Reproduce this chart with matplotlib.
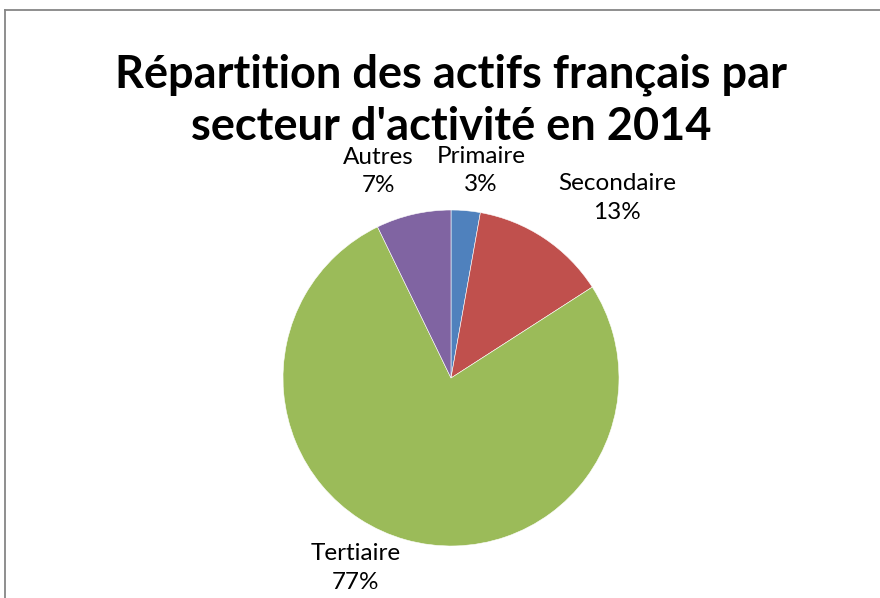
import matplotlib
matplotlib.use("Agg")
import matplotlib.pyplot as plt
from matplotlib.lines import Line2D

categories = ["Primaire", "Secondaire", "Tertiaire", "Autres"]
values = [2.8, 13.1, 76.9, 7.2]
colors = ["#4F81BD", "#C0504D", "#9BBB59", "#8064A2"]
title = "Répartition des actifs français par\nsecteur d'activité en 2014"

# label positions (data units, pie radius = 1)
label_pos = [(0.18, 1.235), (0.99, 1.07), (-0.57, -1.13), (-0.43, 1.23)]

W, H = 880, 598
cx, cy, R = 451, 378, 168  # pixel geometry of the pie (from top-left)

fig = plt.figure(figsize=(W / 100, H / 100), dpi=100)
ax = fig.add_axes([0, 0, 1, 1])
ax.set_aspect("equal")
ax.axis("off")

wedges, _ = ax.pie(values, colors=colors, startangle=90, counterclock=False,
                   radius=1, center=(0, 0),
                   wedgeprops=dict(edgecolor="white", linewidth=0.4))
ax.set_xlim(-cx / R, (W - cx) / R)
ax.set_ylim(-(H - cy) / R, cy / R)

total = sum(values)
for name, v, (lx, ly) in zip(categories, values, label_pos):
    ax.text(lx, ly, f"{name}\n{round(100 * v / total):.0f}%", ha="center", va="center",
            fontsize=17.5, family=["Lato", "DejaVu Sans"], color="#000000",
            linespacing=1.45)

fig.text(451 / W, 1 - 101 / H, title, ha="center", va="center", fontsize=32.5,
         fontweight="bold", family=["Lato", "DejaVu Sans"], linespacing=1.3)

# chart border (top and left edges visible)
fig.add_artist(Line2D([5 / W, 1], [1 - 9.5 / H, 1 - 9.5 / H], transform=fig.transFigure,
                      color="#868686", linewidth=1.3))
fig.add_artist(Line2D([5 / W, 5 / W], [0, 1 - 9.5 / H], transform=fig.transFigure,
                      color="#868686", linewidth=1.3))

fig.savefig("out.png", dpi=100, facecolor="white")
